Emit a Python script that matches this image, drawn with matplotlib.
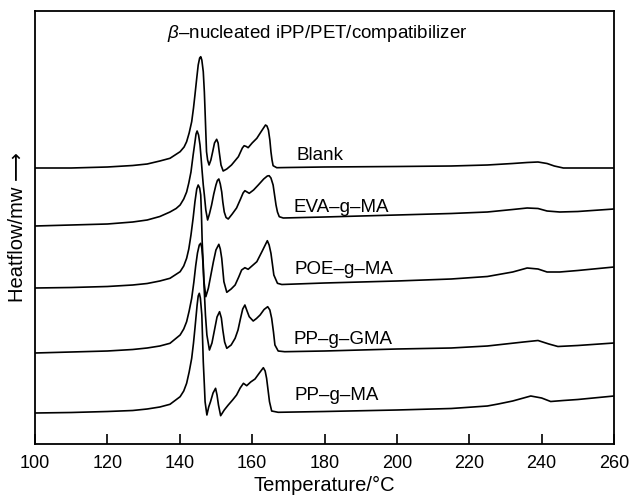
import matplotlib
matplotlib.use("Agg")
import matplotlib.pyplot as plt

plt.rcParams['font.family'] = ['Liberation Sans', 'DejaVu Sans']
plt.rcParams['mathtext.fontset'] = 'custom'
plt.rcParams['mathtext.it'] = 'Liberation Sans:italic'

# DSC heating curves, heat flow in arbitrary units (curves stacked)
T_blank = [100, 110, 120, 127, 131, 134.5, 137.3, 140.1, 141.2, 141.9,
           142.6, 143.3, 143.8, 144.2, 144.7, 145.1, 145.5, 145.8, 146.1, 146.5,
           146.8, 147.0, 147.2, 147.4, 147.7, 148.1, 148.6, 149.1, 149.6, 150.2,
           150.6, 150.9, 151.4, 152.0, 153.0, 154.3, 156.2, 157.3, 157.8, 158.4,
           158.9, 160.0, 161.3, 162.6, 163.7, 164.1, 164.5, 164.9, 165.2, 165.5,
           165.8, 166.8, 170, 180, 200, 215, 225, 232, 236, 239,
           241.5, 243.5, 246, 260]
hf_blank = [276, 276, 277, 278.5, 280, 283, 285.7, 292.3, 297, 302.3,
            311, 322.3, 336, 349, 366, 379, 386, 387.3, 384, 372.3,
            352, 332.3, 312, 292.3, 284, 279, 284, 292.3, 301, 304.7,
            301, 292.3, 279, 273, 275, 279, 287.3, 296, 298.3, 297.5,
            296.3, 301, 305.7, 313, 319, 318, 314, 304, 292.3, 284,
            278.3, 276.3, 276.5, 277, 277.5, 278, 279, 280.5, 281.5, 282,
            280.5, 278, 276, 276]

T_eva = [100, 110, 120, 127, 131, 134.5, 137.3, 139, 140.1, 141.1,
         141.9, 142.5, 143.1, 143.7, 144.2, 144.5, 144.8, 145.2, 145.6, 145.9,
         146.2, 146.5, 146.8, 147.2, 147.7, 148.2, 148.8, 149.4, 150.0, 150.4,
         150.8, 151.2, 151.6, 151.9, 152.3, 152.8, 153.4, 154.5, 155.7, 156.8,
         157.5, 158.0, 158.6, 159.2, 160.4, 161.7, 163.2, 164.2, 164.7, 165.2,
         165.8, 166.2, 166.6, 167.0, 167.5, 168.6, 180, 200, 215, 225,
         232, 236, 239, 241.5, 245, 250, 260]
hf_eva = [218, 219, 220, 222, 224, 227.5, 232, 235.5, 239, 245,
          252, 261, 272, 289, 302, 310, 313, 309, 299, 286,
          272, 259, 249, 234, 224, 230, 239, 250, 259, 263.5,
          265, 260, 252, 242, 232, 226.5, 225, 230, 236, 245,
          251, 253.3, 252, 250.7, 254, 259, 265, 268, 268.3, 266,
          259, 249, 239, 232, 227.3, 226, 227, 229, 230.5, 232,
          234.5, 236, 235.5, 233, 232, 232.5, 235]

T_poe = [100, 110, 120, 127, 131, 134.5, 137.3, 140.1, 141.1, 141.9,
         142.5, 143.1, 143.7, 144.2, 144.7, 145.1, 145.5, 145.8, 146.0, 146.2,
         146.5, 146.7, 147.2, 147.9, 148.6, 149.3, 150.0, 150.8, 151.2, 151.6,
         152.2, 153.0, 154.2, 155.3, 156.3, 157.1, 158.0, 158.9, 160.1, 161.3,
         162.8, 164.2, 164.7, 165.2, 165.6, 166.0, 167.0, 168.2, 180, 200,
         215, 225, 232, 236, 239, 241.5, 245, 250, 260]
hf_poe = [156, 156.5, 157.5, 159, 160.5, 163, 165.7, 172.3, 178, 185.7,
          195, 209, 226, 242.3, 255, 259, 256, 249, 229, 202.3,
          179, 162.3, 147.3, 155.7, 169, 182.3, 194, 199.7, 195, 185.7,
          162.3, 151.7, 155, 159, 167, 174, 176.3, 174.7, 178.5, 182.3,
          193, 203.3, 199, 190.7, 180, 169, 160.7, 159.5, 161, 163,
          165, 167.5, 172, 176, 175, 172, 172, 173.5, 177]

T_gma = [100, 110, 120, 127, 131, 134.5, 137.3, 140.1, 141.1, 141.9,
         142.6, 143.3, 143.9, 144.4, 144.9, 145.4, 145.8, 146.1, 146.4, 146.7,
         147.1, 147.5, 148.2, 148.9, 149.6, 150.3, 151.0, 151.5, 151.9, 152.4,
         153.0, 154.2, 155.3, 156.1, 156.8, 157.4, 158.0, 158.6, 159.2, 160.3,
         161.2, 162.2, 163.3, 164.3, 164.9, 165.4, 165.9, 166.3, 167.2, 169,
         180, 200, 215, 225, 230, 235, 239, 242, 244.5, 250,
         260]
hf_gma = [91, 92, 93, 94.5, 96, 98, 100.7, 109, 115, 122.3,
          133, 145.7, 162, 178, 191, 199, 200.7, 196, 182, 159,
          129, 109, 94, 101, 114, 127, 132.3, 126, 114, 102,
          95.7, 99, 105.7, 114, 125.7, 135, 139, 133, 127.3, 123,
          125.5, 129, 134.5, 137.3, 134, 125.7, 112, 99, 93, 92.3,
          93, 95, 96, 98, 100, 102, 103.5, 100, 97.5, 98.5,
          101]

T_ma = [100, 110, 120, 127, 131, 134.5, 137.3, 140.1, 141.1, 141.9,
        142.6, 143.3, 143.8, 144.2, 144.8, 145.1, 145.4, 145.7, 146.1, 146.3,
        146.5, 146.8, 147.0, 147.5, 148.0, 148.5, 149.2, 149.9, 150.3, 150.7,
        151.3, 152.3, 153.4, 154.6, 155.7, 156.7, 157.6, 158.5, 159.6, 160.8,
        162.0, 163.1, 163.6, 164.0, 164.4, 164.8, 165.4, 167.2, 180, 200,
        215, 225, 228, 232, 237, 240, 242.5, 246, 250, 260]
hf_ma = [31, 31.5, 32.5, 33.5, 35, 37, 39.7, 47.3, 53, 60.7,
         72, 85.7, 101, 115.7, 139, 148, 150.7, 146, 129, 106,
         82.3, 59, 42.3, 29, 37, 42.3, 51, 55.7, 49, 39,
         28.3, 34, 39, 44, 49, 56, 60.7, 58.3, 62, 65,
         71, 76.3, 73, 65.7, 54, 42.3, 33, 31.7, 32.5, 34,
         35.5, 38, 40, 43, 48, 46, 42.5, 43.5, 44.5, 48]

labels = ['Blank', 'EVA\u2013g\u2013MA', 'POE\u2013g\u2013MA',
          'PP\u2013g\u2013GMA', 'PP\u2013g\u2013MA']
label_hf = [289, 236, 174, 104, 48]
label_T = [172.3, 171.5, 171.8, 171.5, 171.8]

curves = [(T_blank, hf_blank), (T_eva, hf_eva), (T_poe, hf_poe),
          (T_gma, hf_gma), (T_ma, hf_ma)]

fig = plt.figure(figsize=(6.3, 4.96), dpi=100)
ax = fig.add_axes([35 / 630, 52 / 496, 579 / 630, 433 / 496])

for (t, h), lab, lt, lh in zip(curves, labels, label_T, label_hf):
    ax.plot(t, h, color='black', lw=1.2, solid_joinstyle='round')
    ax.text(lt, lh, lab, fontsize=13.5, ha='left', va='center')

ax.text(136.5, 410, r'$\beta$' + '\u2013nucleated iPP/PET/compatibilizer',
        fontsize=13.5, ha='left', va='center')

ax.set_xlim(100, 260)
ax.set_ylim(0, 433)
ax.set_xticks(range(100, 261, 20))
ax.set_yticks([])
ax.tick_params(axis='x', direction='in', length=7, width=1.2,
               labelsize=13, pad=8)
for s in ax.spines.values():
    s.set_linewidth(1.3)

ax.set_xlabel('Temperature/\u00b0C', fontsize=14.5, labelpad=3)
# long arrow comes from DejaVu Sans (fallback in the family list)
ax.set_ylabel('Heatflow/mw \u27f6', fontsize=14.5, labelpad=6)

fig.savefig('out.png', dpi=100)
